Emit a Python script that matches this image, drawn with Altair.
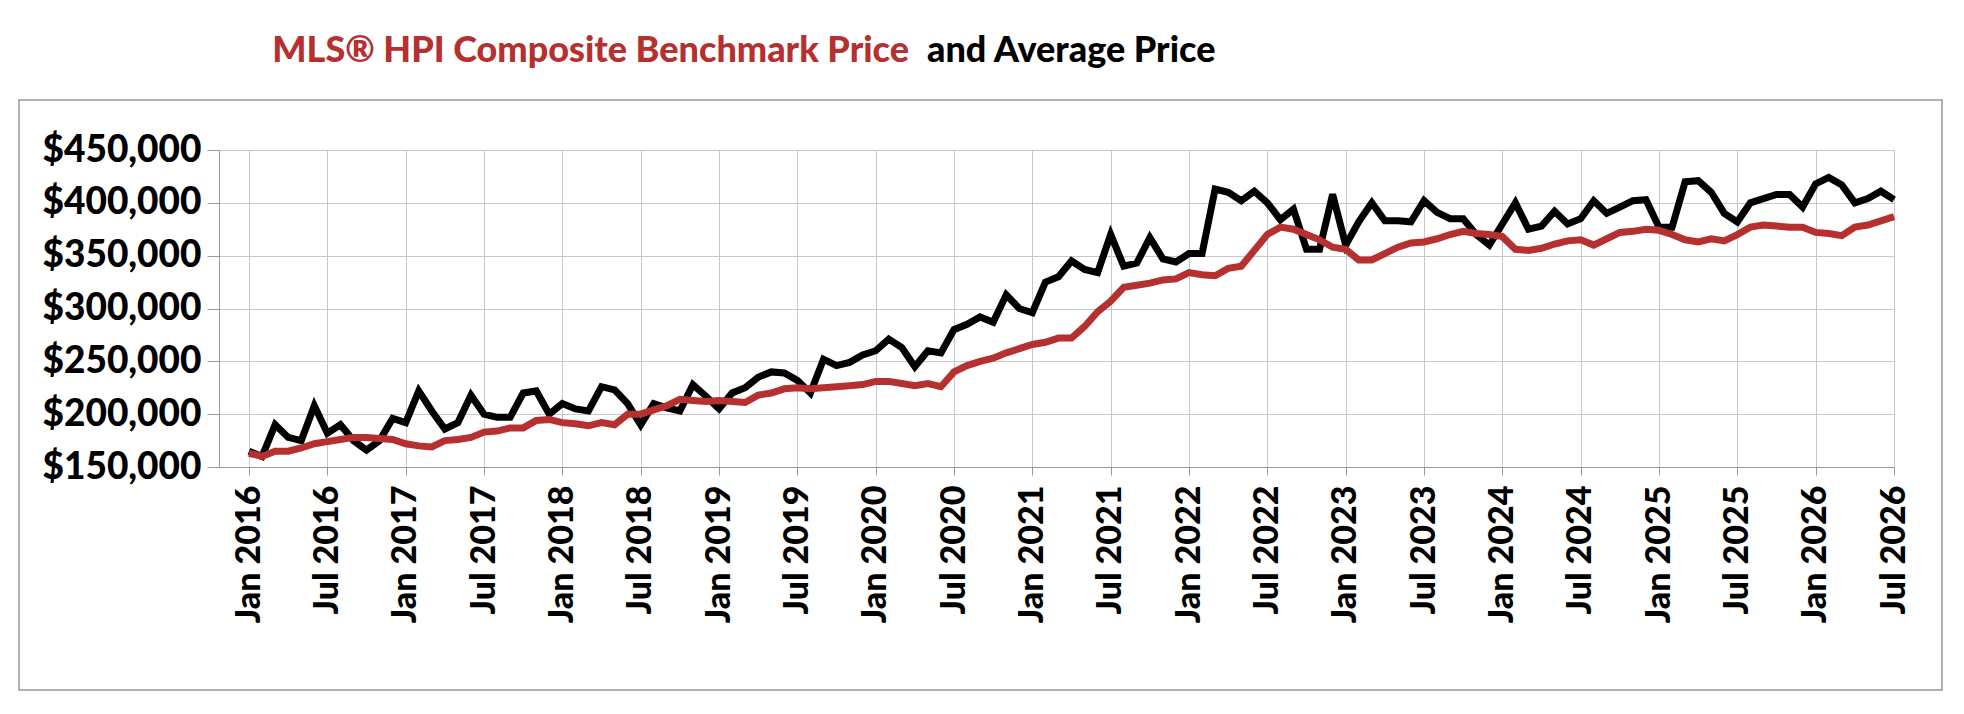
import altair as alt
import pandas as pd

avg_price = [165,160,190,178,175,208,182,190,175,166,175,196,
 192,222,203,186,192,218,200,197,197,220,222,200,
 210,205,203,226,223,210,190,210,206,203,228,217,
 205,220,225,235,240,239,232,220,252,246,249,256,
 260,271,263,245,260,258,280,285,292,287,313,300,
 296,325,330,345,337,334,370,340,343,367,347,344,
 352,352,413,410,402,411,400,384,394,356,356,408,
 360,382,400,383,383,382,402,391,385,385,370,360,
 380,400,375,378,392,380,385,402,390,396,402,403,
 377,377,420,421,410,390,382,400,404,408,408,396,
 418,424,417,400,404,411,403]
hpi_price = [163,160,165,165,168,172,174,176,178,178,177,176,
 172,170,169,175,176,178,183,184,187,187,194,195,
 192,191,189,192,190,200,200,204,208,214,213,212,
 213,212,211,218,220,224,225,224,225,226,227,228,
 231,231,229,227,229,226,240,246,250,253,258,262,
 266,268,272,272,283,297,307,320,322,324,327,328,
 334,332,331,338,340,355,370,377,375,370,365,358,
 356,346,346,352,358,362,363,366,370,373,371,370,
 368,356,355,357,361,364,365,360,366,372,373,375,
 374,370,365,363,366,364,370,377,379,378,377,377,
 372,371,369,377,379,383,387]
months = list(range(len(avg_price)))
tick_months = list(range(0, 127, 6))

df = pd.DataFrame({
    "m": months * 2,
    "price": [v * 1000 for v in avg_price] + [v * 1000 for v in hpi_price],
    "series": ["Average"] * len(avg_price) + ["HPI"] * len(hpi_price),
})

W, H = 1675, 317
FONT = "Lato"

x = alt.X("m:Q", scale=alt.Scale(domain=[-2.3, 126], nice=False, zero=False),
          axis=alt.Axis(values=tick_months, title=None, labelAngle=-90,
                        labelAlign="right", labelBaseline="middle",
                        labelExpr="(datum.value % 12 == 0 ? 'Jan ' : 'Jul ') + (2016 + floor(datum.value / 12))",
                        labelFont=FONT, labelFontWeight=900, labelFontSize=34,
                        labelColor="black", tickSize=8, labelPadding=10,
                        gridColor="#c8c8c8", domainColor="#999999", tickColor="#999999"))
y = alt.Y("price:Q", scale=alt.Scale(domain=[150000, 450000], nice=False, zero=False),
          axis=alt.Axis(values=list(range(150000, 450001, 50000)), format="$,.0f",
                        title=None, labelFont=FONT, labelFontWeight=900,
                        labelFontSize=37, labelColor="black", tickSize=12,
                        labelPadding=6, gridColor="#c8c8c8",
                        domainColor="#999999", tickColor="#999999"))

lines = alt.Chart(df).mark_line(strokeWidth=7, strokeJoin="miter").encode(
    x=x, y=y,
    color=alt.Color("series:N", scale=alt.Scale(domain=["Average", "HPI"],
                    range=["#000000", "#b5302f"]), legend=None),
)

box = alt.Chart(pd.DataFrame({"a": [0]})).mark_rect(
    fill=None, stroke="#999999", strokeWidth=1.5, clip=False
).encode(x=alt.value(-200), x2=alt.value(1723), y=alt.value(-50), y2=alt.value(540))

t1 = alt.Chart(pd.DataFrame({"t": ["MLS® HPI Composite Benchmark Price"]})).mark_text(
    align="right", baseline="alphabetic", font=FONT, fontWeight=900,
    fontSize=36, color="#b5302f"
).encode(text="t:N", x=alt.value(690), y=alt.value(-88))
t2 = alt.Chart(pd.DataFrame({"t": ["and Average Price"]})).mark_text(
    align="left", baseline="alphabetic", font=FONT, fontWeight=900,
    fontSize=36, color="black"
).encode(text="t:N", x=alt.value(708), y=alt.value(-88))

chart = alt.layer(box, lines, t1, t2).properties(
    width=W, height=H,
    autosize=alt.AutoSizeParams(type="none"),
    padding={"left": 211, "top": 142, "right": 60, "bottom": 238},
).configure_view(stroke=None)

chart.save("out.html", embed_options={"renderer": "svg", "actions": False})
